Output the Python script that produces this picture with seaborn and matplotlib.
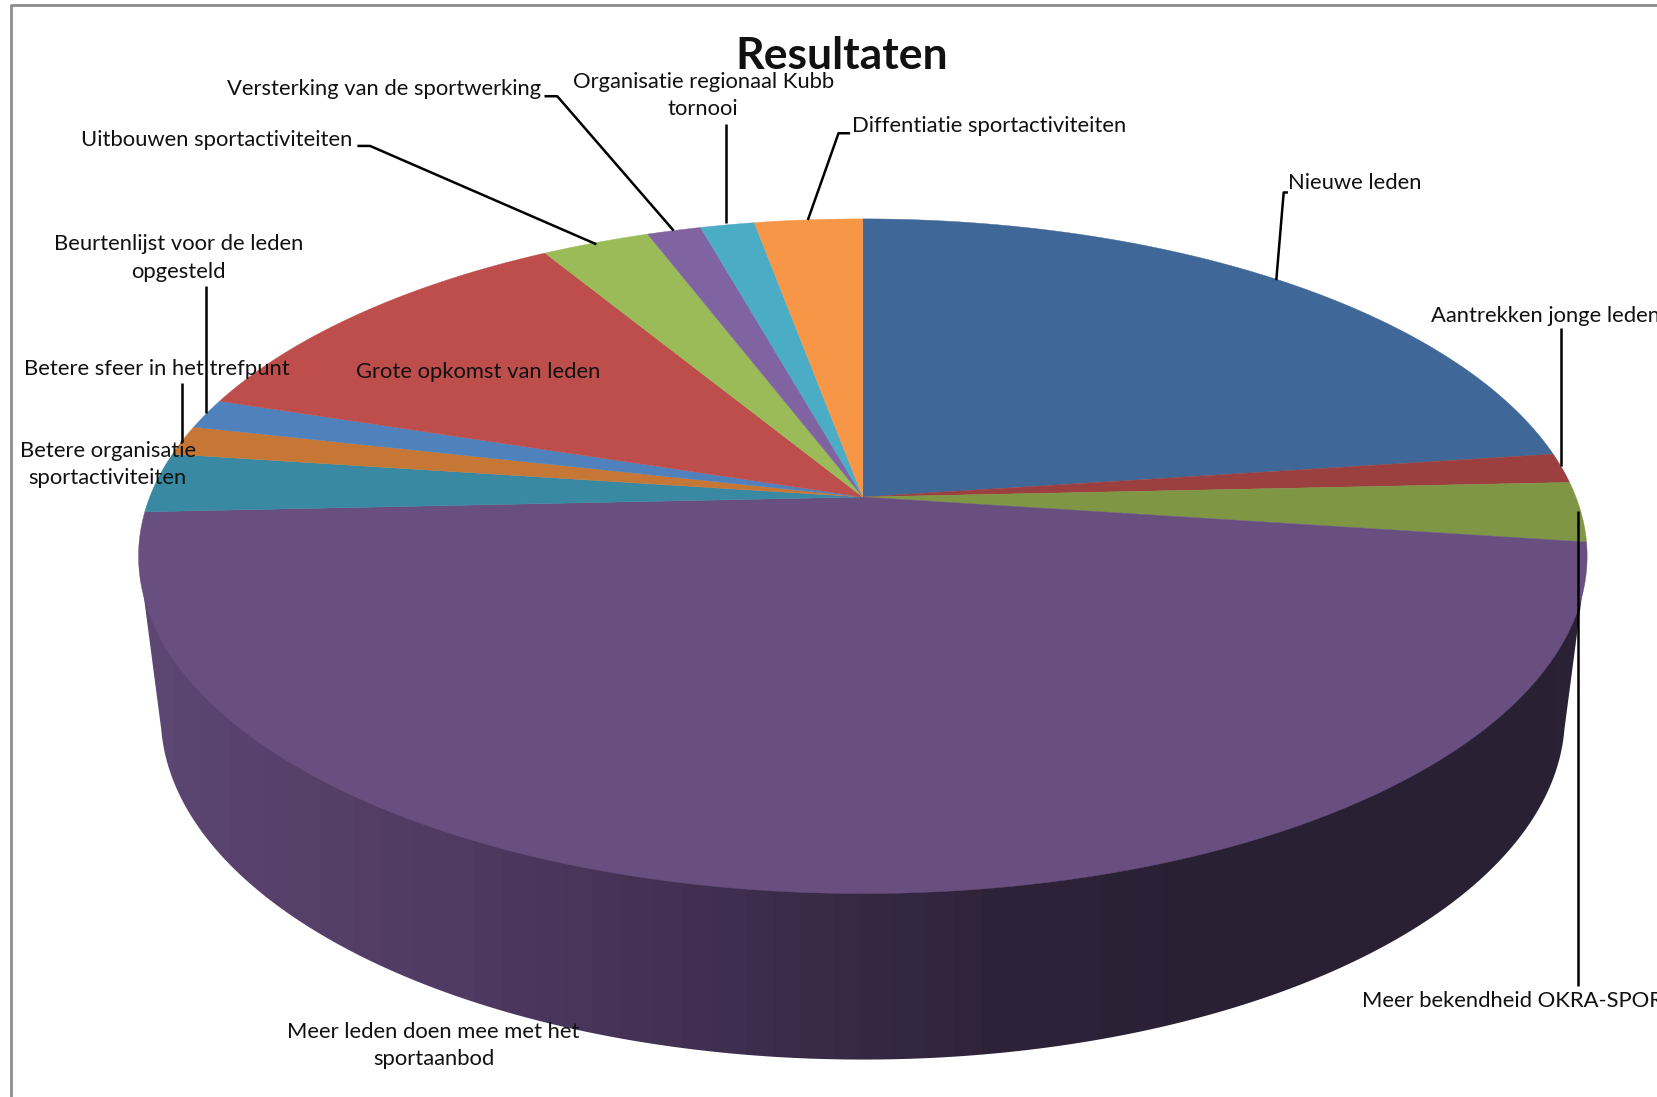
import numpy as np
import matplotlib
matplotlib.use("Agg")
import matplotlib.pyplot as plt
from matplotlib.colors import ListedColormap
from matplotlib.patches import Polygon
import seaborn as sns

categories = [
    "Nieuwe leden",
    "Aantrekken jonge leden",
    "Meer bekendheid OKRA-SPORT",
    "Meer leden doen mee met het\nsportaanbod",
    "Betere organisatie\nsportactiviteiten",
    "Betere sfeer in het trefpunt",
    "Beurtenlijst voor de leden\nopgesteld",
    "Grote opkomst van leden",
    "Uitbouwen sportactiviteiten",
    "Versterking van de sportwerking",
    "Organisatie regionaal Kubb\ntornooi",
    "Diffentiatie sportactiviteiten",
]
values = [16, 1, 2, 33, 2, 1, 1, 8, 2, 1, 1, 2]
colors = ["#3f6797", "#9b3f3f", "#7f9645", "#684f7f", "#3a89a3", "#c67735",
          "#4f81bd", "#be4e4c", "#9bbb59", "#8064a2", "#4bacc6", "#f79646"]
wall_colors = ["#5c4672", "#503b64", "#3f2f50", "#2e2238", "#292033", "#2b2135"]

sns.set_theme(style="white")
plt.rcParams["font.family"] = ["Lato", "DejaVu Sans"]

# everything below is in the pixels of the 1568 wide view of the chart
W, H = 1568, 1037.4
fig = plt.figure(figsize=(16.58, 10.97), dpi=100)
ax = fig.add_axes([0, 0, 1, 1])

# top of the pie: ellipse, the centre of the circle sits higher because of the perspective
cx, cy, a, b = 816, 526, 685, 319
c = 56 / b


def project(theta):
    # theta is clockwise from 12 o'clock, circle -> perspective ellipse
    x = np.sin(theta)
    y = np.cos(theta)
    d = 1 + c * y
    return cx + a * x * np.sqrt(1 - c ** 2) / d, cy - b * (y + c) / d


# side wall with the horizontal gradient
bx, by, ba, bb = 816, 677, 664, 325
t = np.linspace(0.04, np.pi - 0.04, 200)
wall_x = np.r_[cx + a, bx + ba * np.cos(t), cx - a]
wall_y = np.r_[cy, by + bb * np.sin(t), cy]
wall = Polygon(np.c_[wall_x, wall_y], closed=True, fc="none", ec="none")
ax.add_patch(wall)
cmap = ListedColormap(sns.blend_palette(wall_colors, 48))
img = ax.imshow(np.linspace(0, 1, 256)[None, :], cmap=cmap, aspect="auto",
                extent=[cx - a, cx + a, 1010, cy], zorder=1)
img.set_clip_path(wall)

# top slices
edges = np.r_[0, np.cumsum(values)] / np.sum(values) * 2 * np.pi
for i in range(len(values)):
    th = np.linspace(edges[i], edges[i + 1], 120)
    px, py = project(th)
    pts = np.c_[np.r_[cx, px], np.r_[cy - b * c, py]]
    ax.add_patch(Polygon(pts, closed=True, fc=colors[i], ec=colors[i], lw=0.3, zorder=2))

# leader lines
leaders = [
    ([1218, 1214, 1207], [182, 182, 265]),
    ([1476, 1476], [310, 441]),
    ([1492, 1492], [932, 483]),
    ([804, 793, 764], [126, 126, 208]),
    ([687, 687], [117, 211]),
    ([515, 527, 637], [91, 91, 218]),
    ([338, 350, 564], [138, 138, 231]),
    ([195, 195], [270, 391]),
    ([172, 172], [362, 418]),
]
for lx, ly in leaders:
    ax.plot(lx, ly, color="black", lw=1.8, zorder=3, solid_capstyle="butt")

# labels
label_pos = [(1281, 173), (1462, 299), (1437, 947), (410, 989), (102, 439), (148, 349),
             (169, 244), (452, 352), (205, 132), (363, 84), (665, 90), (935, 119)]
for name, (lx, ly) in zip(categories, label_pos):
    ax.text(lx, ly, name, ha="center", va="center", fontsize=15.8, color="#111111",
            linespacing=1.45, zorder=4, clip_on=False)

ax.text(796, 53, "Resultaten", ha="center", va="center", fontsize=32, fontweight="bold",
        color="#111111", zorder=4)

# chart frame, cut off at the right and at the bottom
ax.plot([10, 10, W + 5], [H + 5, 5, 5], color="#8c8c8c", lw=2, zorder=5)

ax.set_xlim(0, W)
ax.set_ylim(H, 0)
ax.axis("off")
fig.savefig("out.png", dpi=100, facecolor="white")
